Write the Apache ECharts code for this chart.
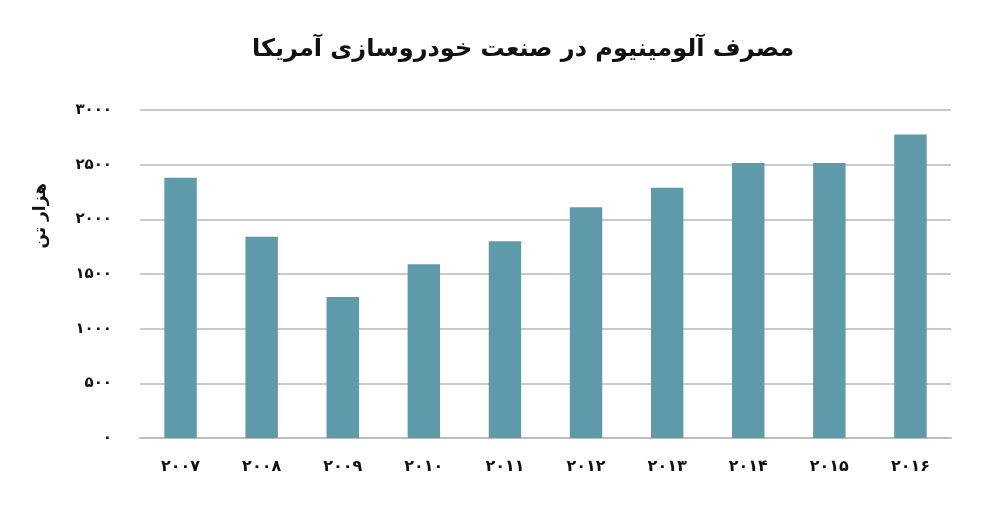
<!DOCTYPE html>
<html>
<head>
<meta charset="utf-8">
<script src="https://cdn.jsdelivr.net/npm/echarts@6/dist/echarts.min.js"></script>
<style>
  html, body { margin: 0; padding: 0; background: #fff; }
  #chart { width: 992px; height: 510px; }
</style>
</head>
<body>
<div id="chart"></div>
<script>
const years = ['2007', '2008', '2009', '2010', '2011', '2012', '2013', '2014', '2015', '2016']
const consumption = [2380, 1840, 1290, 1590, 1800, 2110, 2290, 2515, 2515, 2775]
const titleText = 'مصرف آلومینیوم در صنعت خودروسازی آمریکا'
const unitText = 'هزار تن'

const faDigits = '۰۱۲۳۴۵۶۷۸۹'
function toFa(s) {
  return String(s).replace(/[0-9]/g, d => faDigits[+d])
}

const chart = echarts.init(document.getElementById('chart'))
chart.setOption({
  animation: false,
  textStyle: { fontFamily: 'DejaVu Sans' },
  title: {
    text: titleText,
    left: 247,
    top: 33,
    textStyle: { fontSize: 24, fontWeight: 'bold', color: '#111' }
  },
  grid: { left: 140, right: 41, top: 110, bottom: 72 },
  xAxis: {
    type: 'category',
    data: years,
    axisLine: { lineStyle: { color: '#bdbdbd', width: 2 } },
    axisTick: { length: 7, lineStyle: { color: '#bdbdbd', width: 1.5 } },
    axisLabel: {
      formatter: v => toFa(v),
      margin: 21,
      fontSize: 16,
      fontWeight: 'bold',
      color: '#111'
    }
  },
  yAxis: {
    type: 'value',
    min: 0,
    max: 3000,
    interval: 500,
    axisLine: { show: false },
    axisTick: { show: false },
    splitLine: { lineStyle: { color: '#cacaca', width: 2 } },
    axisLabel: {
      formatter: v => toFa(v),
      margin: 28,
      fontSize: 15,
      fontWeight: 'bold',
      color: '#111'
    }
  },
  graphic: [{
    type: 'text',
    left: 32,
    top: 183,
    rotation: Math.PI / 2,
    style: {
      text: unitText,
      fontFamily: 'DejaVu Sans',
      fontSize: 17,
      fontWeight: 'bold',
      fill: '#111'
    }
  }],
  series: [{
    type: 'bar',
    data: consumption,
    barWidth: '40%',
    itemStyle: { color: '#5e9aa9' }
  }]
})
</script>
</body>
</html>
